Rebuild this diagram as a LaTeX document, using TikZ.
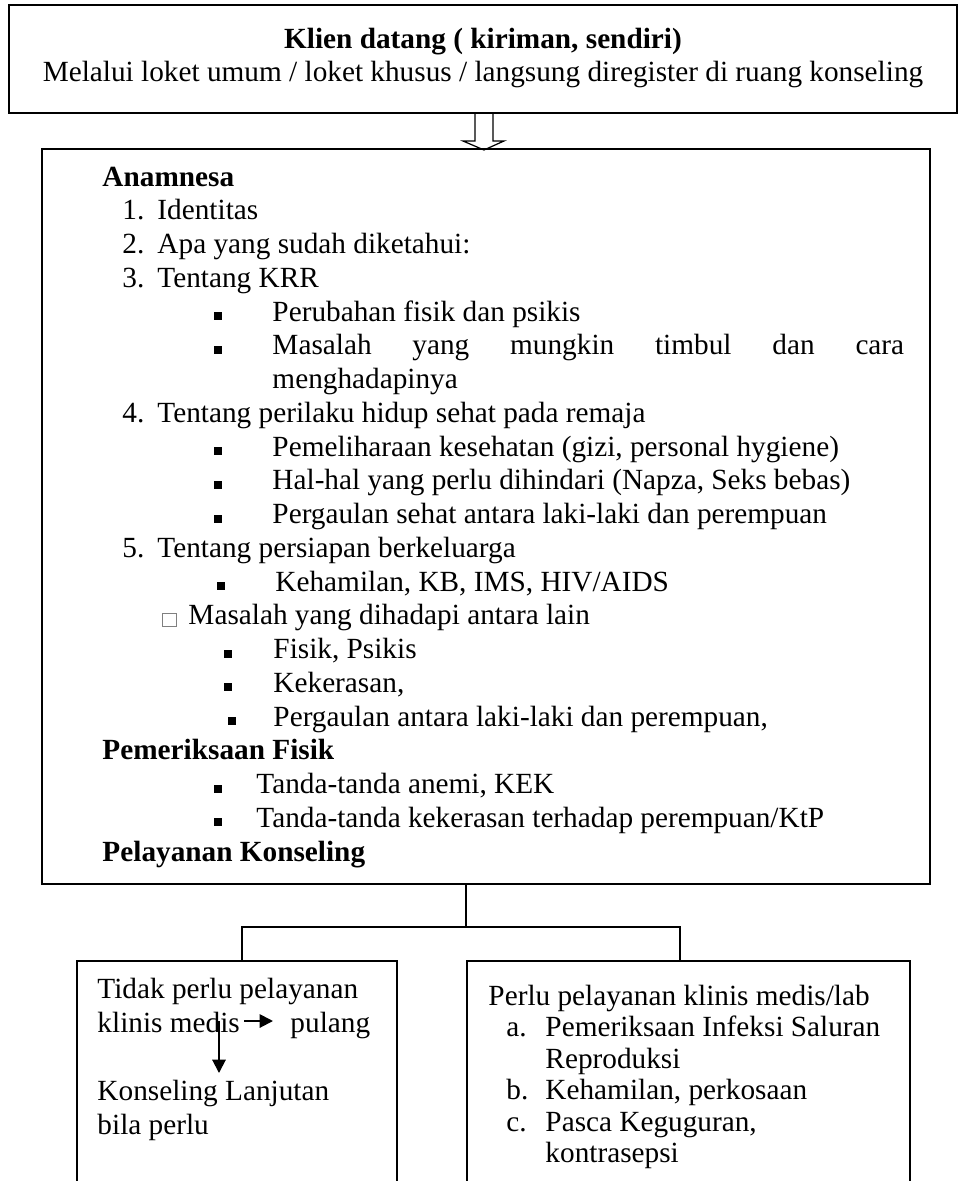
\documentclass[tikz,border=0pt]{standalone}
\usepackage{fontspec}
\setmainfont{Liberation Serif}
\usetikzlibrary{arrows.meta,calc,fit}

\tikzset{
  box/.style={draw,line width=0.8pt,inner sep=0pt},
  line/.style={anchor=base west,inner sep=0pt,font=\fontsize{12pt}{13.8pt}\selectfont},
  mid/.style={anchor=base,inner sep=0pt,font=\fontsize{12pt}{13.8pt}\selectfont},
  link/.style={line width=0.6pt},
  hollow/.style={line width=0.5pt},
  arr/.style={line width=0.8pt,-{Triangle[length=5.5pt,width=5.5pt]}},
}
% row baseline in the middle box
\newcommand{\ry}[1]{186+33.75*(#1)}
% name, bullet x, text x, row, text
\newcommand{\bitem}[5]{%
  \fill ({#2-4},{\ry{#4}-1}) rectangle ++(8,-8);
  \node[line] (#1) at (#3,{\ry{#4}}) {#5};}

\begin{document}
\begin{tikzpicture}[x=0.41pt,y=-0.41pt]
  \useasboundingbox (0,0) rectangle (959,1181);
  \clip (0,0) rectangle (959,1181);

  % boxes
  \node[box,fit={(9,5) (957,113)}] (klien) {};
  \node[box,fit={(42,149) (930,884)}] (mid) {};
  \node[box,fit={(77,961) (397,1220)}] (lbox) {};
  \node[box,fit={(467,961) (910,1220)}] (rbox) {};

  % top box
  \node[mid] (datang) at (483,48) {\textbf{Klien datang ( kiriman, sendiri)}};
  \node[mid] (loket) at (483,81) {Melalui loket umum / loket khusus / langsung diregister di ruang konseling};

  \draw[hollow,shift={(klien.south)}] (-8,0) -- (-8,27) -- (-20,27) -- (1,36)
    -- (21,27) -- (10,27) -- (10,0);

  % middle box
  \node[line] (anam) at (102,{\ry{0}}) {\textbf{Anamnesa}};
  \node[line] (n1) at (122,{\ry{1}}) {1.};
  \node[line] (ident) at (157,{\ry{1}}) {Identitas};
  \node[line] (n2) at (122,{\ry{2}}) {2.};
  \node[line] (tahu) at (157,{\ry{2}}) {Apa yang sudah diketahui:};
  \node[line] (n3) at (122,{\ry{3}}) {3.};
  \node[line] (krr) at (157,{\ry{3}}) {Tentang KRR};
  \bitem{fisik}{218}{272}{4}{Perubahan fisik dan psikis}
  \bitem{timbul}{218}{272}{5}{\makebox[259pt][s]{Masalah yang mungkin timbul dan cara}}
  \node[line] (hadapi) at (272,{\ry{6}}) {menghadapinya};
  \node[line] (n4) at (122,{\ry{7}}) {4.};
  \node[line] (sehat) at (157,{\ry{7}}) {Tentang perilaku hidup sehat pada remaja};
  \bitem{gizi}{218}{272}{8}{Pemeliharaan kesehatan (gizi, personal hygiene)}
  \bitem{napza}{218}{272}{9}{Hal-hal yang perlu dihindari (Napza, Seks bebas)}
  \bitem{gaul}{218}{272}{10}{Pergaulan sehat antara laki-laki dan perempuan}
  \node[line] (n5) at (122,{\ry{11}}) {5.};
  \node[line] (keluarga) at (157,{\ry{11}}) {Tentang persiapan berkeluarga};
  \bitem{kb}{221}{275}{12}{Kehamilan, KB, IMS, HIV/AIDS}
  \draw[gray,line width=0.3pt] (162,{\ry{13}+2}) rectangle (176,{\ry{13}-11});
  \node[line] (masalah) at (188,{\ry{13}}) {Masalah yang dihadapi antara lain};
  \bitem{psikis}{228}{273}{14}{Fisik, Psikis}
  \bitem{keras}{228}{273}{15}{Kekerasan,}
  \bitem{antara}{232}{273}{16}{Pergaulan antara laki-laki dan perempuan,}
  \node[line] (periksa) at (102,{\ry{17}}) {\textbf{Pemeriksaan Fisik}};
  \bitem{anemi}{218}{256}{18}{Tanda-tanda anemi, KEK}
  \bitem{ktp}{218}{256}{19}{Tanda-tanda kekerasan terhadap perempuan/KtP}
  \node[line] (layan) at (102,{\ry{20}}) {\textbf{Pelayanan Konseling}};

  % branch lines
  \coordinate (jM) at (466,927);
  \coordinate (jL) at (242,927);
  \coordinate (jR) at (680,927);
  \draw[link] (jM |- mid.south) -- (jM);
  \draw[link] (jL |- lbox.north) -- (jL) -- (jR) -- (jR |- rbox.north);

  % left box
  \node[line] (tidak) at (97,998) {Tidak perlu pelayanan};
  \node[line] (medis) at (97,1032) {klinis medis};
  \node[line] (pulang) at (290,1032) {pulang};
  \node[line] (lanjut) at (97,1100) {Konseling Lanjutan};
  \node[line] (bila) at (97,1134) {bila perlu};
  \coordinate (mk) at (219,1021);
  \draw[arr] (medis.east |- mk) ++(4,0) -- ($(pulang.west |- mk)+(-17,0)$);
  \draw[arr] (mk) -- (219,1073);

  % right box
  \node[line] (perlu) at (488,1005) {Perlu pelayanan klinis medis/lab};
  \node[line] (la) at (506,1036.5) {a.};
  \node[line] (ims) at (545,1036.5) {Pemeriksaan Infeksi Saluran};
  \node[line] (repro) at (545,1068) {Reproduksi};
  \node[line] (lb) at (506,1099.5) {b.};
  \node[line] (hamil) at (545,1099.5) {Kehamilan, perkosaan};
  \node[line] (lc) at (506,1131) {c.};
  \node[line] (gugur) at (545,1131) {Pasca Keguguran,};
  \node[line] (kontra) at (545,1162.5) {kontrasepsi};
\end{tikzpicture}
\end{document}
